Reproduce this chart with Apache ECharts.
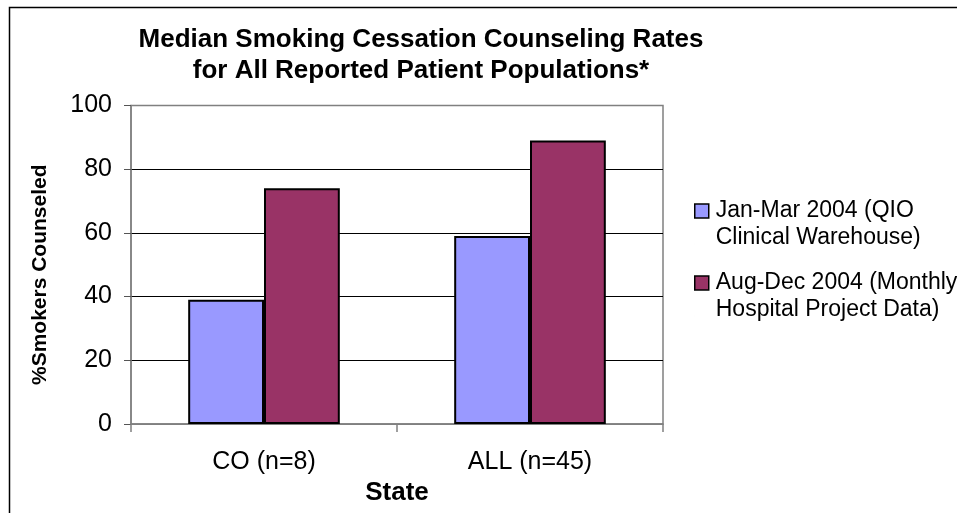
<!DOCTYPE html>
<html>
<head>
<meta charset="utf-8">
<script src="https://cdn.jsdelivr.net/npm/echarts@6/dist/echarts.min.js"></script>
<style>
  html, body { margin: 0; padding: 0; background: #fff; }
  #chart { width: 957px; height: 513px; }
</style>
</head>
<body>
<div id="chart"></div>
<script>
// Median counseling rates (% of smokers counseled) by reporting group
const categories = ['CO (n=8)', 'ALL (n=45)'];
const seriesNames = [
  'Jan-Mar 2004 (QIO\nClinical Warehouse)',
  'Aug-Dec 2004 (Monthly\nHospital Project Data)'
];
const janMar2004 = [39, 59];
const augDec2004 = [74, 89];
const yTicks = [0, 20, 40, 60, 80, 100];

const FONT = 'Liberation Sans, Arial, sans-serif';
// square legend swatch placed at the top of a taller box so it lines up with the first text line
const swatch = 'path://M0,0L14,0L14,14L0,14ZM0,40L0.01,40';

const chart = echarts.init(document.getElementById('chart'), null, { renderer: 'canvas' });

chart.setOption({
  animation: false,
  backgroundColor: '#fff',
  textStyle: { fontFamily: FONT },
  title: {
    text: 'Median Smoking Cessation Counseling Rates\nfor All Reported Patient Populations*',
    left: 416,
    top: 19,
    textAlign: 'center',
    textStyle: { fontFamily: FONT, fontSize: 26, fontWeight: 'bold', color: '#000', lineHeight: 31 }
  },
  legend: {
    orient: 'vertical',
    left: 689,
    top: 192,
    itemWidth: 14,
    itemHeight: 40,
    itemGap: 18,
    icon: swatch,
    itemStyle: { borderColor: '#000', borderWidth: 1.5 },
    textStyle: { fontFamily: FONT, fontSize: 23, color: '#000', lineHeight: 27, padding: [0, 0, 0, 2] },
    data: seriesNames
  },
  grid: {
    left: 131, right: 294, top: 105.5, bottom: 89,
    show: true, borderColor: '#808080', borderWidth: 1.5
  },
  xAxis: {
    type: 'category',
    data: categories,
    name: 'State',
    nameLocation: 'middle',
    nameGap: 51,
    nameTextStyle: { fontFamily: FONT, fontSize: 26, fontWeight: 'bold', color: '#000' },
    axisLine: { lineStyle: { color: '#808080', width: 1.5 } },
    axisTick: { show: true, length: 8, inside: false, alignWithLabel: false, lineStyle: { color: '#808080', width: 1.5 } },
    axisLabel: { fontFamily: FONT, fontSize: 25, color: '#000', margin: 26 },
    splitLine: { show: false }
  },
  yAxis: {
    type: 'value',
    min: 0, max: 100, interval: 20,
    name: '%Smokers Counseled',
    nameLocation: 'middle',
    nameGap: 80,
    nameRotate: 90,
    nameTextStyle: { fontFamily: FONT, fontSize: 21, fontWeight: 'bold', color: '#000', padding: [0, 20, 0, 0] },
    axisLine: { show: true, lineStyle: { color: '#808080', width: 1.5 } },
    axisTick: { show: true, length: 7, inside: false, lineStyle: { color: '#555', width: 1 } },
    axisLabel: { fontFamily: FONT, fontSize: 25, color: '#000', margin: 19,
      formatter: v => yTicks.includes(v) ? String(v) : '' },
    splitLine: { show: true, lineStyle: { color: ['#808080', '#000', '#000', '#000', '#000', '#808080'], width: 1 } }
  },
  series: [
    {
      name: seriesNames[0], type: 'bar', data: janMar2004,
      barGap: '0%', barCategoryGap: '43%',
      itemStyle: { color: '#9999FF', borderColor: '#000', borderWidth: 2 }
    },
    {
      name: seriesNames[1], type: 'bar', data: augDec2004,
      barGap: '0%', barCategoryGap: '43%',
      itemStyle: { color: '#993366', borderColor: '#000', borderWidth: 2 }
    }
  ],
  graphic: [
    {
      type: 'rect', silent: true, z: 100,
      shape: { x: 9.5, y: 7.5, width: 1000, height: 600 },
      style: { fill: null, stroke: '#000', lineWidth: 1.5 }
    }
  ]
});
</script>
</body>
</html>
